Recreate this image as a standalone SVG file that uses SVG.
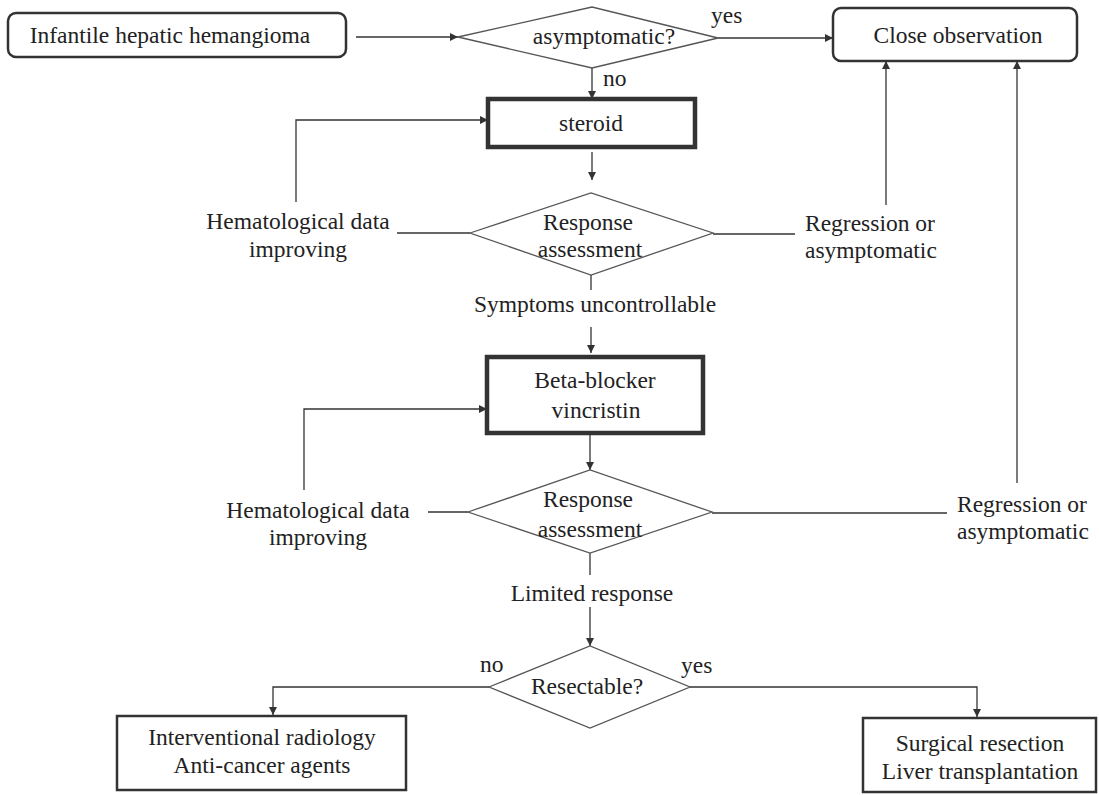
<svg xmlns="http://www.w3.org/2000/svg" width="1099" height="795" viewBox="0 0 1099 795">
<defs>
<marker id="ah" viewBox="0 0 10 10" refX="10" refY="5" markerWidth="9" markerHeight="8" markerUnits="userSpaceOnUse" orient="auto">
<path d="M0,0 L10,5 L0,10 z" fill="#333"/>
</marker>
<style>
text{font-family:'Liberation Serif','DejaVu Serif','Times New Roman',serif;font-size:23.5px;fill:#222}
.c{text-anchor:middle}
.rb{fill:#fff;stroke:#333;stroke-width:2.5}
.tb{fill:#fff;stroke:#333;stroke-width:4.5}
.nb{fill:#fff;stroke:#333;stroke-width:2.5}
.dm{fill:none;stroke:#555;stroke-width:1.3}
.ln{fill:none;stroke:#333;stroke-width:1.3}
.ar{fill:none;stroke:#333;stroke-width:1.3;marker-end:url(#ah)}
</style>
</defs>
<rect width="1099" height="795" fill="#fff"/>
<g id="connectors">
<path class="ar" d="M356,37 L458,37"/>
<path class="ar" d="M718,38 L833,38"/>
<path class="ar" d="M592,68 L592,99"/>
<path class="ar" d="M296,202 L296,120 L488,120"/>
<path class="ar" d="M592,152 L592,180"/>
<path class="ln" d="M397,233 L470,233"/>
<path class="ln" d="M713,234 L795,234"/>
<path class="ar" d="M886,205 L886,61"/>
<path class="ln" d="M591,275 L591,290"/>
<path class="ar" d="M591,327 L591,353"/>
<path class="ar" d="M304,490 L304,409 L487,409"/>
<path class="ar" d="M590,433 L590,470"/>
<path class="ln" d="M428,512 L468,512"/>
<path class="ln" d="M712,513 L947,513"/>
<path class="ar" d="M1017,483 L1017,61"/>
<path class="ln" d="M590,553 L590,575"/>
<path class="ar" d="M590,607 L590,646"/>
<path class="ar" d="M489,687 L273,687 L273,715"/>
<path class="ar" d="M690,687 L977,687 L977,717"/>
</g>
<g font-family="Liberation Serif, DejaVu Serif, serif">
<g id="n-infantile">
<rect class="rb" x="8" y="13" width="338" height="44" rx="8"/>
<text class="c" x="170" y="43">Infantile hepatic hemangioma</text>
</g>
<g id="n-asymptomatic">
<polygon class="dm" points="458,37 592,7 718,38 592,68"/>
<text class="c" x="604" y="44">asymptomatic?</text>
</g>
<g id="n-yes1"><text x="711" y="23">yes</text></g>
<g id="n-no1"><text x="603" y="86">no</text></g>
<g id="n-close">
<rect class="rb" x="833" y="8" width="244" height="53" rx="8"/>
<text class="c" x="958" y="43">Close observation</text>
</g>
<g id="n-steroid">
<rect class="tb" x="488" y="99" width="207" height="48"/>
<text class="c" x="591" y="131">steroid</text>
</g>
<g id="n-resp1">
<polygon class="dm" points="470,233 591,193 713,233 591,275"/>
<text class="c" x="588" y="230">Response</text>
<text class="c" x="590" y="257">assessment</text>
</g>
<g id="n-hemat1">
<text class="c" x="298" y="229">Hematological data</text>
<text class="c" x="298" y="257">improving</text>
</g>
<g id="n-regr1">
<text x="805" y="231">Regression or</text>
<text x="805" y="258">asymptomatic</text>
</g>
<g id="n-symptoms"><text class="c" x="595" y="312">Symptoms uncontrollable</text></g>
<g id="n-beta">
<rect class="tb" x="487" y="357" width="216" height="76"/>
<text class="c" x="595" y="388">Beta-blocker</text>
<text class="c" x="596" y="418">vincristin</text>
</g>
<g id="n-resp2">
<polygon class="dm" points="468,512 590,470 712,512 590,553"/>
<text class="c" x="588" y="507">Response</text>
<text class="c" x="590" y="537">assessment</text>
</g>
<g id="n-hemat2">
<text class="c" x="318" y="518">Hematological data</text>
<text class="c" x="318" y="545">improving</text>
</g>
<g id="n-regr2">
<text x="957" y="512">Regression or</text>
<text x="957" y="539">asymptomatic</text>
</g>
<g id="n-limited"><text class="c" x="592" y="601">Limited response</text></g>
<g id="n-resectable">
<polygon class="dm" points="489,687 590,646 690,687 590,728"/>
<text class="c" x="587" y="694">Resectable?</text>
</g>
<g id="n-no2"><text x="480" y="672">no</text></g>
<g id="n-yes2"><text x="681" y="673">yes</text></g>
<g id="n-interv">
<rect class="nb" x="117" y="716" width="289" height="74"/>
<text class="c" x="262" y="745">Interventional radiology</text>
<text class="c" x="262" y="773">Anti-cancer agents</text>
</g>
<g id="n-surgical">
<rect class="nb" x="863" y="718" width="233" height="74"/>
<text class="c" x="980" y="751">Surgical resection</text>
<text class="c" x="980" y="779">Liver transplantation</text>
</g>
</g>
</svg>
